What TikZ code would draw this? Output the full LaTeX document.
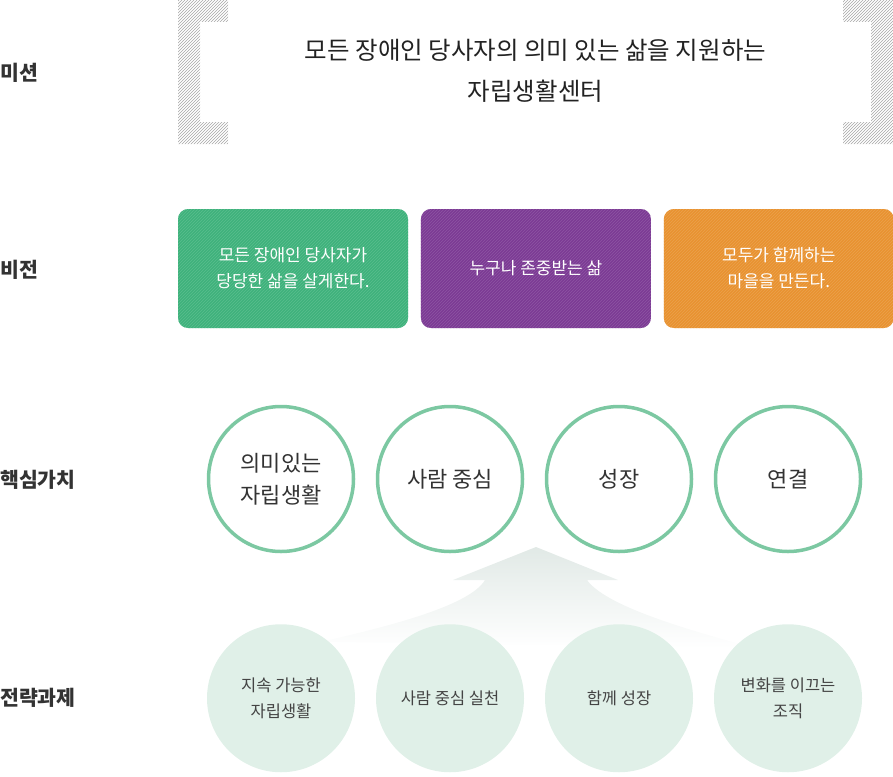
\documentclass[tikz,border=0pt]{standalone}
\usepackage{fontspec}
\setmainfont{Noto Sans CJK KR}
\usetikzlibrary{positioning, patterns}
\definecolor{labelgray}{RGB}{51,51,51}
\definecolor{missiontext}{RGB}{34,34,34}
\definecolor{visgreen}{RGB}{62,178,124}
\definecolor{vispurple}{RGB}{124,58,148}
\definecolor{visorange}{RGB}{232,146,48}
\definecolor{valgreen}{RGB}{124,200,162}
\definecolor{valtext}{RGB}{51,51,51}
\definecolor{taskmint}{RGB}{224,240,232}
\definecolor{tasktext}{RGB}{68,68,68}
\definecolor{arrowtop}{RGB}{225,233,230}
\tikzset{
  rowlabel/.style={
    anchor=west, inner sep=0pt,
    font=\fontsize{20.5}{24}\selectfont\bfseries, text=labelgray
  },
  bracket/.style={pattern=north east lines, pattern color=gray!70},
  visionbox/.style={
    rectangle, rounded corners=10pt,
    minimum width=230pt, minimum height=119pt,
    align=center, font=\fontsize{17}{26}\selectfont, text=white,
    preaction={fill=#1}, pattern=north east lines, pattern color=#1!86!white
  },
  valuecircle/.style={
    circle, minimum size=145pt, line width=3.5pt,
    draw=valgreen, fill=white,
    align=center, font=\fontsize{22}{32}\selectfont, text=valtext
  },
  taskcircle/.style={
    circle, minimum size=148pt, outer sep=0pt, fill=taskmint,
    align=center, font=\fontsize{16.5}{26}\selectfont, text=tasktext
  },
}

\begin{document}
\begin{tikzpicture}[x=1pt,y=-1pt]
  \useasboundingbox (0,0) rectangle (893,776);
  % row labels
  \node[rowlabel] (lmission) at (0,73) {미션};
  \node[rowlabel] (lvision) at (0,270) {비전};
  \node[rowlabel] (lvalue) at (0,480) {핵심가치};
  \node[rowlabel] (ltask) at (0,698) {전략과제};
  % mission
  \fill[bracket] (178,0) -- (228,0) -- (228,22) -- (200,22) -- (200,122)
       -- (228,122) -- (228,144) -- (178,144) -- cycle;
  \fill[bracket] (893,0) -- (843,0) -- (843,22) -- (871,22) -- (871,122)
       -- (843,122) -- (843,144) -- (893,144) -- cycle;
  \node[align=center, text=missiontext,
        font=\fontsize{24.5}{41}\selectfont] (mission) at (535.5,71)
        {모든 장애인 당사자의 의미 있는 삶을 지원하는\\자립생활센터};
  % vision
  \node[visionbox=visgreen] (vis1) at (293,268.5)
        {모든 장애인 당사자가\\당당한 삶을 살게한다.};
  \node[visionbox=vispurple, right=12.5pt of vis1] (vis2) {누구나 존중받는 삶};
  \node[visionbox=visorange, right=12.5pt of vis2] (vis3)
        {모두가 함께하는\\마을을 만든다.};
  % arrow
  \shade[top color=arrowtop, bottom color=white]
       (536,547) -- (618,580) -- (587,580)
       .. controls (605,605) and (680,628) .. (755,648)
       -- (320,642) .. controls (395,625) and (470,605) .. (485,580)
       -- (453,580) -- cycle;
  % core values
  \node[valuecircle] (val1) at (281,479) {의미있는\\자립생활};
  \node[valuecircle, right=20.5pt of val1] (val2) {사람 중심};
  \node[valuecircle, right=20.5pt of val2] (val3) {성장};
  \node[valuecircle, right=20.5pt of val3] (val4) {연결};
  % tasks
  \node[taskcircle, below=71pt of val1] (task1) {지속 가능한\\자립생활};
  \node[taskcircle, below=71pt of val2] (task2) {사람 중심 실천};
  \node[taskcircle, below=71pt of val3] (task3) {함께 성장};
  \node[taskcircle, below=71pt of val4] (task4) {변화를 이끄는\\조직};
\end{tikzpicture}
\end{document}
